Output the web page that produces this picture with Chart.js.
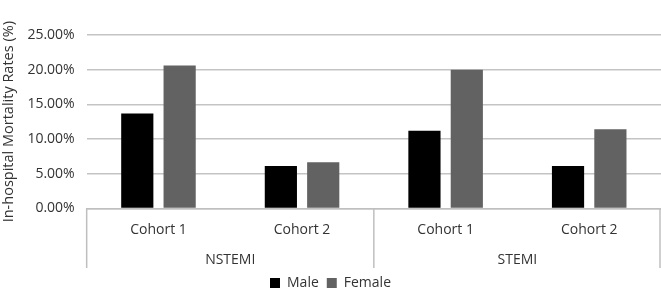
<!DOCTYPE html>
<html>
<head>
<meta charset="utf-8">
<script src="https://cdn.jsdelivr.net/npm/chart.js@4/dist/chart.umd.min.js"></script>
<style>
  html, body { margin: 0; padding: 0; background: #fff; }
  #wrap { width: 661px; height: 290px; }
</style>
</head>
<body>
<div id="wrap"><canvas id="chart"></canvas></div>
<script>
const cohorts = ["Cohort 1", "Cohort 2", "Cohort 1", "Cohort 2"];
const groups = ["NSTEMI", "STEMI"];
const maleRates = [13.7, 6.1, 11.2, 6.1];
const femaleRates = [20.6, 6.65, 20.0, 11.4];

// vertical lines between the outer groups (NSTEMI | STEMI)
const groupLines = {
  id: "groupLines",
  afterDraw(chart) {
    const x = chart.scales.x;
    const area = chart.chartArea;
    const ctx = chart.ctx;
    const mid = (x.getPixelForValue(1) + x.getPixelForValue(2)) / 2;
    const bottom = chart.scales.x2.bottom;
    ctx.save();
    ctx.strokeStyle = "#bfbfbf";
    ctx.lineWidth = 1.5;
    [area.left, mid, area.right - 1].forEach((px) => {
      ctx.beginPath();
      ctx.moveTo(px, area.bottom);
      ctx.lineTo(px, bottom);
      ctx.stroke();
    });
    ctx.restore();
  },
};

const font = { family: "'Open Sans', sans-serif", size: 14 };

const ctx = document.getElementById("chart").getContext("2d");
new Chart(ctx, {
  type: "bar",
  data: {
    labels: cohorts,
    datasets: [
      {
        label: "Male",
        data: maleRates,
        backgroundColor: "#000000",
        categoryPercentage: 0.59,
        barPercentage: 0.76,
      },
      {
        label: "Female",
        data: femaleRates,
        backgroundColor: "#626262",
        categoryPercentage: 0.59,
        barPercentage: 0.76,
      },
    ],
  },
  options: {
    responsive: true,
    maintainAspectRatio: false,
    animation: false,
    layout: { padding: { top: 35, right: 0, left: 0, bottom: -10 } },
    plugins: {
      legend: {
        position: "bottom",
        labels: {
          boxWidth: 10,
          boxHeight: 10,
          padding: 8,
          color: "#333333",
          font: font,
        },
      },
      tooltip: { enabled: false },
    },
    scales: {
      x: {
        grid: { display: false, drawTicks: false, tickLength: 0 },
        border: { display: true, color: "#bfbfbf", width: 1.5 },
        ticks: { color: "#333333", padding: 13, font: font },
      },
      x2: {
        type: "category",
        labels: groups,
        position: "bottom",
        offset: true,
        grid: { display: false, drawTicks: false, tickLength: 0 },
        border: { display: false },
        ticks: { color: "#333333", padding: 0, font: font },
      },
      y: {
        min: 0,
        max: 25,
        ticks: {
          stepSize: 5,
          padding: 12,
          color: "#333333",
          font: font,
          callback: (v) => v.toFixed(2) + "%",
        },
        grid: { color: "#c4c4c4", lineWidth: 1.5, drawTicks: false },
        border: { display: false },
        title: {
          display: true,
          text: "In-hospital Mortality Rates (%)",
          color: "#333333",
          padding: { top: 0, bottom: -2 },
          font: { family: "'Open Sans', sans-serif", size: 14.5 },
        },
      },
    },
  },
  plugins: [groupLines],
});
</script>
</body>
</html>
